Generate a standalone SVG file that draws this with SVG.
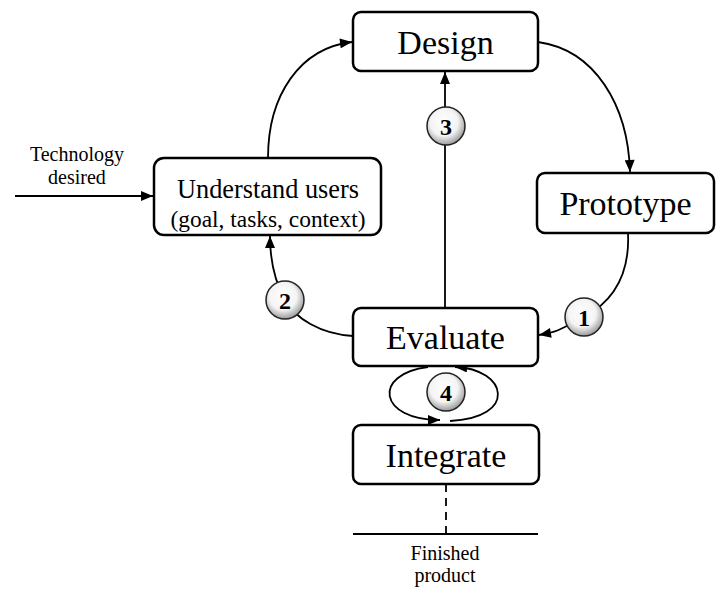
<svg xmlns="http://www.w3.org/2000/svg" width="716" height="590" viewBox="0 0 716 590">
<style>
.box{fill:#fff;stroke:#000;stroke-width:2.5}
.lbl{fill:#000;text-anchor:middle}
.big{font-size:34px}
.sm{font-size:20px}
.num{font-weight:bold;font-size:24px;text-anchor:middle;fill:#000}
.con{fill:none;stroke:#000;stroke-width:1.8}
.badge{fill:url(#g);stroke:#222;stroke-width:1.5}
</style>
<defs>
<radialGradient id="g" cx="0.45" cy="0.4" r="0.6">
<stop offset="0" stop-color="#ffffff"/>
<stop offset="0.6" stop-color="#f4f4f4"/>
<stop offset="1" stop-color="#9a9a9a"/>
</radialGradient>
<marker id="ah" viewBox="0 0 12 10" refX="12" refY="5" markerWidth="13" markerHeight="10" markerUnits="userSpaceOnUse" orient="auto">
<path d="M0,0 L12,5 L0,10 Z" fill="#000"/>
</marker>
</defs>
<rect width="716" height="590" fill="#fff"/>
<g id="connectors">
<path class="con" d="M15,196 L153,196" marker-end="url(#ah)"/>
<path class="con" d="M268,158 C268,95 300,48 352,42" marker-end="url(#ah)"/>
<path class="con" d="M538,42 C595,50 628,105 630,172" marker-end="url(#ah)"/>
<path class="con" d="M628,233 C630,275 612,302 584,317 S556,332 539,335" marker-end="url(#ah)"/>
<path class="con" d="M445,308 L445,72" marker-end="url(#ah)"/>
<path class="con" d="M353,336 C320,334 295,318 285,300 S270,262 270,236" marker-end="url(#ah)"/>
<path class="con" d="M428,367 C372,374 378,420 440,420" marker-end="url(#ah)"/>
<path class="con" d="M450,421 C518,418 508,369 455,367" marker-end="url(#ah)"/>
<path class="con" d="M446,484 L446,533" stroke-dasharray="8,6"/>
<path class="con" d="M353,534 L538,534"/>
</g>
<g font-family="Liberation Serif, Times New Roman, serif">
<g id="design"><rect class="box" x="353" y="12" width="185" height="59" rx="8"/><text class="lbl big" x="445.5" y="54">Design</text></g>
<g id="understand"><rect class="box" x="154" y="158" width="227" height="77" rx="10"/><text class="lbl"><tspan font-size="27" x="268" y="198" textLength="182" lengthAdjust="spacingAndGlyphs">Understand users</tspan><tspan font-size="24" x="268" y="227" textLength="195" lengthAdjust="spacingAndGlyphs">(goal, tasks, context)</tspan></text></g>
<g id="prototype"><rect class="box" x="537" y="173" width="177" height="60" rx="8"/><text class="lbl big" x="625.5" y="215">Prototype</text></g>
<g id="evaluate"><rect class="box" x="353" y="308" width="185" height="58" rx="8"/><text class="lbl big" x="445.5" y="349">Evaluate</text></g>
<g id="integrate"><rect class="box" x="353" y="425" width="186" height="59" rx="8"/><text class="lbl big" x="446" y="467">Integrate</text></g>
<g id="technology"><text class="lbl sm" x="77" y="161">Technology</text><text class="lbl sm" x="77" y="184">desired</text></g>
<g id="finished"><text class="lbl sm" x="445" y="560">Finished</text><text class="lbl sm" x="445" y="582">product</text></g>
<g id="badge1"><circle class="badge" cx="584" cy="317" r="19"/><text class="num" x="584" y="325.5">1</text></g>
<g id="badge2"><circle class="badge" cx="285" cy="300" r="19"/><text class="num" x="285" y="308.5">2</text></g>
<g id="badge3"><circle class="badge" cx="446" cy="126" r="19"/><text class="num" x="446" y="134.5">3</text></g>
<g id="badge4"><circle class="badge" cx="446" cy="392" r="19"/><text class="num" x="446" y="400.5">4</text></g>
</g>
</svg>
